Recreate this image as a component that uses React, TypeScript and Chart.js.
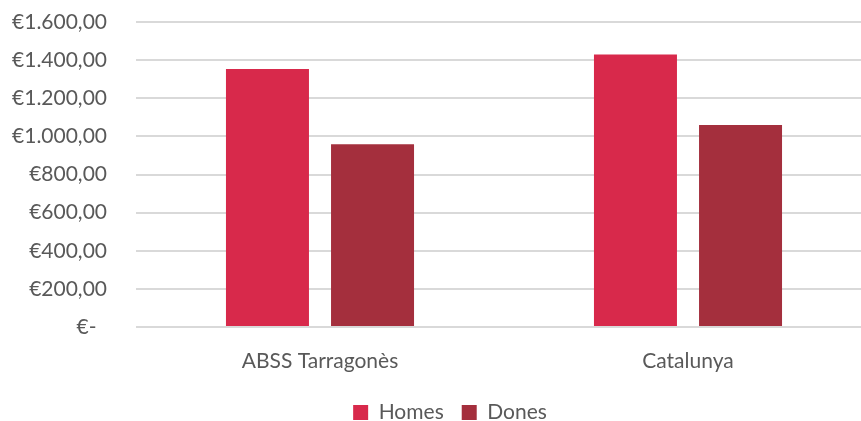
import React, { useEffect, useRef } from "react";
import { Chart, registerables } from "chart.js";

Chart.register(...registerables);

const categories = ["ABSS Tarragonès", "Catalunya"];
const homesValues = [1353, 1430];
const donesValues = [959, 1060];
const yTickValues = [0, 200, 400, 600, 800, 1000, 1200, 1400, 1600];

const FONT = "Lato, 'Open Sans', sans-serif";
const TEXT = "#595959";

function formatEuro(v: number): string {
  if (v === 0) return "€-\u2002";
  const fixed = v.toFixed(2);
  const [intPart, dec] = fixed.split(".");
  const withSep = intPart.replace(/\B(?=(\d{3})+(?!\d))/g, ".");
  return "€" + withSep + "," + dec;
}

const legendShift = {
  id: "legendShift",
  afterLayout(chart: any) {
    if (chart.legend) chart.legend.left += 28;
  },
};

export default function App() {
  const canvasRef = useRef<HTMLCanvasElement | null>(null);

  useEffect(() => {
    if (!canvasRef.current) return;
    const chart = new Chart(canvasRef.current, {
      type: "bar",
      data: {
        labels: categories,
        datasets: [
          {
            label: "Homes",
            data: homesValues,
            backgroundColor: "#D8294B",
            categoryPercentage: 0.571,
            barPercentage: 0.79,
          },
          {
            label: "Dones",
            data: donesValues,
            backgroundColor: "#A42F3D",
            categoryPercentage: 0.571,
            barPercentage: 0.79,
          },
        ],
      },
      options: {
        animation: false,
        responsive: false,
        maintainAspectRatio: false,
        layout: { padding: { top: 22, right: 0, bottom: 0, left: 0 } },
        plugins: {
          tooltip: { enabled: false },
          legend: {
            position: "bottom",
            labels: {
              boxWidth: 15,
              boxHeight: 15,
              padding: 18,
              color: TEXT,
              font: { family: FONT, size: 21 },
            },
          },
        },
        scales: {
          x: {
            grid: { display: false, drawTicks: false },
            border: { display: false },
            ticks: {
              color: TEXT,
              font: { family: FONT, size: 21 },
              padding: 22,
            },
            afterFit: (scale: any) => {
              scale.height = 57;
            },
          },
          y: {
            min: 0,
            max: 1600,
            afterBuildTicks: (scale: any) => {
              scale.ticks = yTickValues.map((v) => ({ value: v }));
            },
            grid: { color: "#D9D9D9", lineWidth: 2, drawTicks: false },
            border: { display: false },
            ticks: {
              color: TEXT,
              font: { family: FONT, size: 21 },
              padding: 29,
              callback: (v: any) => formatEuro(Number(v)),
            },
            afterFit: (scale: any) => {
              scale.width = 136;
              scale.paddingTop = 0;
              scale.paddingBottom = 0;
            },
          },
        },
      },
      plugins: [legendShift],
    });
    return () => chart.destroy();
  }, []);

  return (
    <div style={{ position: "absolute", left: 0, top: 0, width: 861, height: 421, overflow: "hidden", background: "#fff" }}>
      <canvas ref={canvasRef} width={872} height={433} style={{ display: "block" }} />
    </div>
  );
}
